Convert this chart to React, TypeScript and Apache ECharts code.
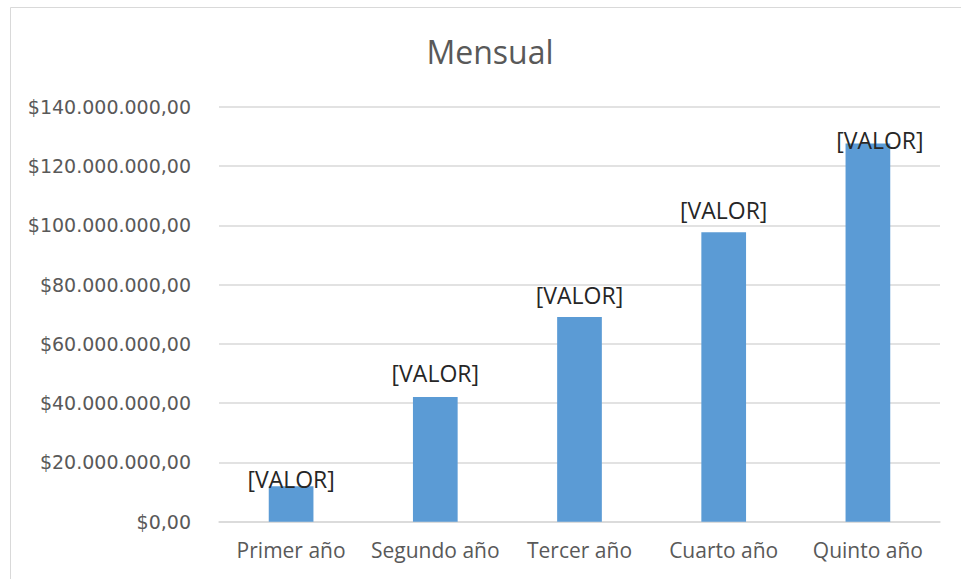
import React, { useEffect, useRef } from "react";
import * as echarts from "echarts";

const categories = ["Primer año", "Segundo año", "Tercer año", "Cuarto año", "Quinto año"];
const values = [12000000, 42100000, 69100000, 97700000, 127700000];
const labelOffsets: number[][] = [[0, 14], [0, -2], [0, -1], [0, -1], [12, 18]];
const yTicks = { min: 0, max: 140000000, interval: 20000000 };

function formatMoney(v: number): string {
  const s = Math.round(v).toString();
  const withDots = s.replace(/\B(?=(\d{3})+(?!\d))/g, ".");
  return "$" + withDots + ",00";
}

export default function App() {
  const ref = useRef<HTMLDivElement>(null);
  useEffect(() => {
    if (!ref.current) return;
    const chart = echarts.init(ref.current, undefined, { renderer: "svg" });
    chart.setOption({
      animation: false,
      backgroundColor: "#ffffff",
      graphic: [
        {
          type: "rect",
          shape: { x: 10.5, y: 7.5, width: 1000, height: 700 },
          style: { fill: "none", stroke: "#d9d9d9", lineWidth: 1 },
          silent: true,
          z: -10,
        },
      ],
      title: {
        text: "Mensual",
        left: 485,
        textAlign: "center",
        top: 30,
        textStyle: {
          fontFamily: "Open Sans",
          fontSize: 32,
          fontWeight: "normal",
          color: "#595959",
        },
      },
      grid: { left: 219, right: 21, top: 107, bottom: 57.3, containLabel: false },
      xAxis: {
        type: "category",
        data: categories,
        axisLine: { show: true, lineStyle: { color: "#d9d9d9", width: 1.5 } },
        axisTick: { show: false },
        axisLabel: {
          interval: 0,
          fontFamily: "Open Sans",
          fontSize: 21,
          color: "#595959",
          margin: 18,
        },
      },
      yAxis: {
        type: "value",
        min: yTicks.min,
        max: yTicks.max,
        interval: yTicks.interval,
        axisLine: { show: false },
        axisTick: { show: false },
        splitLine: { lineStyle: { color: "#d9d9d9", width: 1.5 } },
        axisLabel: {
          fontFamily: "DejaVu Sans",
          fontSize: 19,
          color: "#595959",
          margin: 28,
          formatter: (v: number) => formatMoney(v),
        },
      },
      series: [
        {
          type: "bar",
          data: values.map((v, i) => ({
            value: v,
            label: { offset: labelOffsets[i] },
          })),
          barWidth: "31%",
          itemStyle: { color: "#5b9bd5" },
          label: {
            show: true,
            position: "top",
            distance: 10,
            formatter: "[VALOR]",
            fontFamily: "Open Sans",
            fontSize: 23,
            color: "#262626",
          },
        },
      ],
    });
    return () => chart.dispose();
  }, []);
  return <div ref={ref} style={{ width: 961, height: 579, position: "absolute", left: 0, top: 0 }} />;
}
